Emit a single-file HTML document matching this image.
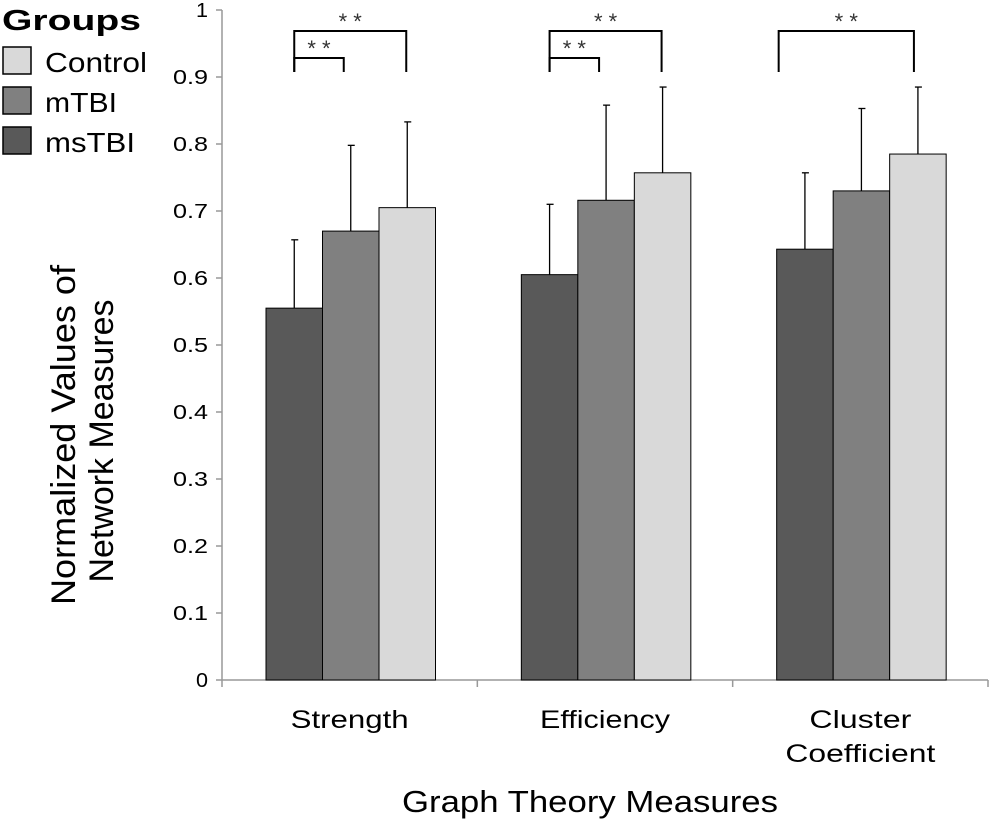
<!DOCTYPE html>
<html><head><meta charset="utf-8"><style>
body{margin:0;background:#fff}
svg{display:block;font-family:"Liberation Sans",Arial,sans-serif}
</style></head><body>
<svg id="c" width="990" height="819" viewBox="0 0 990 819"></svg>
<script>
const categories=["Strength","Efficiency","Cluster Coefficient"];
const groups=["msTBI","mTBI","Control"];
const msTBI=[0.555,0.605,0.643];
const mTBI=[0.670,0.716,0.730];
const control=[0.705,0.757,0.785];
const msTBIErr=[0.102,0.105,0.114];
const mTBIErr=[0.128,0.142,0.123];
const controlErr=[0.128,0.128,0.100];
const yTicks=[0,0.1,0.2,0.3,0.4,0.5,0.6,0.7,0.8,0.9,1];
const yTickLabels=["0","0.1","0.2","0.3","0.4","0.5","0.6","0.7","0.8","0.9","1"];
const colors=["#595959","#808080","#d9d9d9"];
const svg=document.getElementById('c');
const NS='http://www.w3.org/2000/svg';
function mk(t,a,p){const e=document.createElementNS(NS,t);for(const k in a)e.setAttribute(k,a[k]);(p||svg).appendChild(e);return e;}
const x0=222,x1=988,yB=680,yT=10;
const y=v=>yB-(v)*(yB-yT);
const gw=(x1-x0)/categories.length;
const bw=56.5;
const barX=(ci,gi)=>x0+ci*gw+44+gi*bw;
let ax=mk('line',{x1:x0,y1:yT,x2:x0,y2:yB,stroke:'#999','stroke-width':1.5});

let xa=mk('line',{x1:x0,y1:yB,x2:x1,y2:yB,stroke:'#999','stroke-width':1.5});

yTicks.forEach((t,i)=>{
  mk('line',{x1:x0-6,y1:y(t),x2:x0,y2:y(t),stroke:'#999','stroke-width':1.5});
  const s=yTickLabels[i];
  const tx=mk('text',{x:208,y:y(t)+7,'text-anchor':'end','font-size':20,textLength:s.length>1?35:12,lengthAdjust:'spacingAndGlyphs'});
  tx.textContent=s;
  
  
});
for(let i=0;i<=categories.length;i++){mk('line',{x1:x0+i*gw,y1:yB,x2:x0+i*gw,y2:yB+7,stroke:'#999','stroke-width':1.5});}
const series=[msTBI,mTBI,control],errs=[msTBIErr,mTBIErr,controlErr];
const lens={"Strength":118,"Efficiency":130,"Cluster":102,"Coefficient":150};
categories.forEach((c,ci)=>{
  series.forEach((s,gi)=>{
    const bx=barX(ci,gi);
    const r=mk('rect',{x:bx,y:y(s[ci]),width:bw,height:yB-y(s[ci]),fill:colors[gi],stroke:'#000','stroke-width':1});
    
    
    const cx=bx+bw/2,top=y(s[ci]+errs[gi][ci]);
    mk('line',{x1:cx,y1:y(s[ci]),x2:cx,y2:top,stroke:'#000','stroke-width':1.3});
    mk('line',{x1:cx-3,y1:top,x2:cx+4,y2:top,stroke:'#000','stroke-width':1.3});
  });
  const g=mk('g',{});
  
  
  const parts=c==="Cluster Coefficient"?["Cluster","Coefficient"]:[c];
  parts.forEach((p,k)=>{const ts=mk('text',{x:x0+ci*gw+gw/2,y:728+k*34,'text-anchor':'middle','font-size':25,textLength:lens[p],lengthAdjust:'spacingAndGlyphs'},g);ts.textContent=p;});
});
function bracket(xa,xb,yl,ybot,name){
  const g=mk('g',{});
  
  
  mk('polyline',{points:`${xa},${ybot} ${xa},${yl} ${xb},${yl} ${xb},${ybot}`,fill:'none',stroke:'#000','stroke-width':2},g);
  const t=mk('text',{x:(xa+xb)/2,y:yl-2,'text-anchor':'middle','font-size':22,fill:'#333'},g);t.textContent='* *';
}
[0,1].forEach(ci=>{
  const a=barX(ci,0)+bw/2;
  bracket(a,barX(ci,1)+bw/2-7,58,72,'significance-inner-'+ci);
  bracket(a,barX(ci,2)+bw/2-1,31,72,'significance-outer-'+ci);
});
bracket(barX(2,0)+2,barX(2,2)+bw/2-4,31,72,'significance-outer-2');
const xt=mk('text',{x:590,y:812,'text-anchor':'middle','font-size':31,textLength:376,lengthAdjust:'spacingAndGlyphs'});xt.textContent='Graph Theory Measures';

const yg=mk('g',{transform:'translate(75,435) rotate(-90)'});

const t1=mk('text',{x:0,y:0,'text-anchor':'middle','font-size':34,textLength:340,lengthAdjust:'spacingAndGlyphs'},yg);t1.textContent='Normalized Values of';
const t2=mk('text',{x:-6,y:38,'text-anchor':'middle','font-size':34,textLength:283,lengthAdjust:'spacingAndGlyphs'},yg);t2.textContent='Network Measures';
const lg=mk('g',{});
const lt=mk('text',{x:2,y:30,'font-size':29,'font-weight':'bold',textLength:139,lengthAdjust:'spacingAndGlyphs'},lg);lt.textContent='Groups';
const legOrder=[2,1,0];
const legLens=[90,72,102];
legOrder.forEach((gi,k)=>{
  const e=mk('g',{},lg);
  
  
  mk('rect',{x:3,y:47+k*40,width:28,height:27,fill:colors[gi],stroke:'#000','stroke-width':1.5},e);
  const t=mk('text',{x:45,y:72+k*40,'font-size':28,textLength:legLens[gi],lengthAdjust:'spacingAndGlyphs'},e);t.textContent=groups[gi];
});
</script>
</body></html>
